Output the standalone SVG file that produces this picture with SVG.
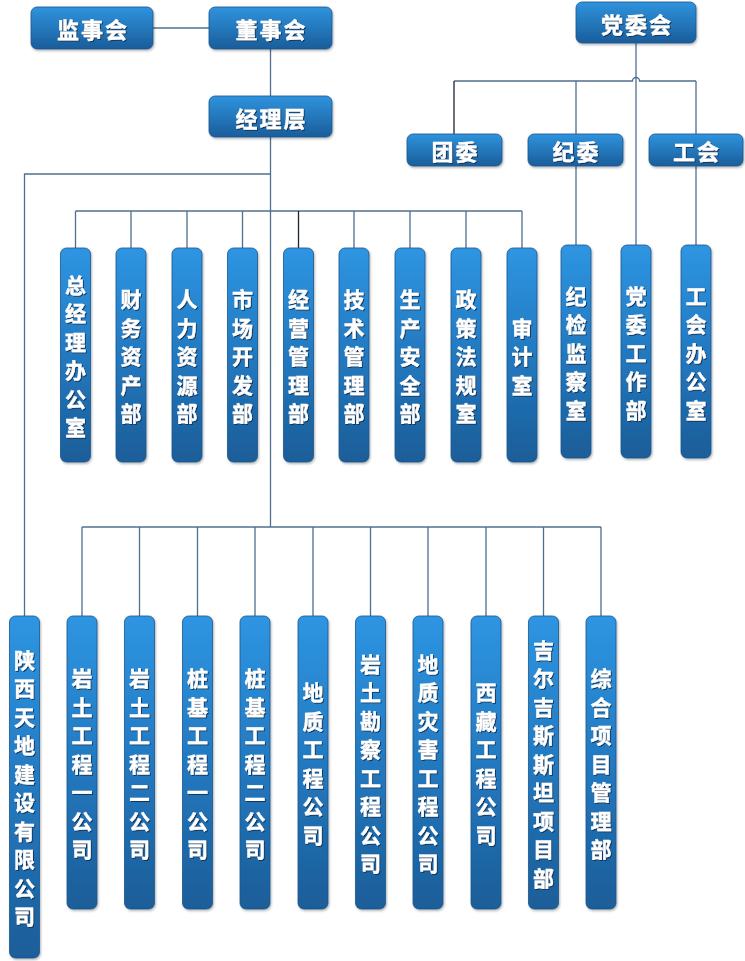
<svg xmlns="http://www.w3.org/2000/svg" width="745" height="961" viewBox="0 0 745 961">
<defs>
<linearGradient id="gv" x1="0" y1="0" x2="0" y2="1">
<stop offset="0" stop-color="#2e95e2"/>
<stop offset="0.5" stop-color="#2379c0"/>
<stop offset="1" stop-color="#1a5d98"/>
</linearGradient>
<linearGradient id="gh" x1="0" y1="0" x2="0" y2="1">
<stop offset="0" stop-color="#2f93dd"/>
<stop offset="1" stop-color="#1a5d9b"/>
</linearGradient>
<filter id="bs" x="-20%" y="-20%" width="150%" height="150%">
<feDropShadow dx="1" dy="1.5" stdDeviation="1.2" flood-color="#000" flood-opacity="0.3"/>
</filter>
<filter id="ts" x="-20%" y="-20%" width="140%" height="140%">
<feDropShadow dx="1" dy="1" stdDeviation="0.5" flood-color="#0a2a4c" flood-opacity="0.85"/>
</filter>
</defs>
<style>
.bh{fill:url(#gh);stroke:#1a558e;stroke-width:0.8;filter:url(#bs)}
.bv{fill:url(#gv);stroke:#1a558e;stroke-width:0.8;filter:url(#bs)}
.t{font-family:"Noto Sans CJK SC","Noto Sans",sans-serif;font-weight:bold;fill:#fff;stroke:#fff;stroke-width:0.35;filter:url(#ts)}
.th{font-size:22px;letter-spacing:2px;text-anchor:middle;dominant-baseline:central}
.tv{font-size:21px;text-anchor:middle;dominant-baseline:central}
.c{fill:none;stroke:#4f6f8f;stroke-width:1.3}
.k{fill:none;stroke:#1c2430;stroke-width:1.3}
</style>
<rect width="745" height="961" fill="#fff"/>
<g id="connectors">
<path class="c" d="M153,28 H209"/>
<path class="c" d="M270.5,49 V96"/>
<path class="c" d="M270.5,137 V527"/>
<path class="c" d="M270.5,174 H24.5 V616"/>
<path class="c" d="M75.5,211 H522"/>
<path class="c" d="M75.5,211 V248 M131,211 V248 M187,211 V248 M242.5,211 V248 M354,211 V248 M410,211 V248 M466,211 V248 M522,211 V248"/>
<path class="k" d="M298.5,211 V248"/>
<path class="c" d="M82,527 H601"/>
<path class="c" d="M82,527 V616 M139.5,527 V616 M197.5,527 V616 M255,527 V616 M313,527 V616 M370.5,527 V616 M428,527 V616 M486,527 V616 M543.5,527 V616 M601,527 V616"/>
<path class="c" d="M636,43 V245"/>
<path class="c" d="M454,81 H632.5 a3.5,3.5 0 0 1 7,0 H696"/>
<path class="k" d="M454,81 V134"/>
<path class="c" d="M576,81 V134 M696,81 V134"/>
<path class="c" d="M576,166 V245 M696,166 V245"/>
</g>
<g id="n-jianshihui"><rect class="bh" x="31" y="7" width="122" height="42" rx="6"/><text class="t th" x="93" y="28">监事会</text></g>
<g id="n-dongshihui"><rect class="bh" x="209" y="7" width="123" height="42" rx="6"/><text class="t th" x="271.5" y="28">董事会</text></g>
<g id="n-jinglieceng"><rect class="bh" x="209" y="96" width="123" height="41" rx="6"/><text class="t th" x="271.5" y="116.5">经理层</text></g>
<g id="n-dangweihui"><rect class="bh" x="576" y="2" width="120" height="41" rx="6"/><text class="t th" x="637" y="22.5">党委会</text></g>
<g id="n-tuanwei"><rect class="bh" x="407" y="134" width="95" height="32" rx="6"/><text class="t th" x="455.5" y="150">团委</text></g>
<g id="n-jiwei"><rect class="bh" x="528" y="134" width="95" height="32" rx="6"/><text class="t th" x="576.5" y="150">纪委</text></g>
<g id="n-gonghui"><rect class="bh" x="649" y="134" width="94" height="32" rx="6"/><text class="t th" x="697" y="150">工会</text></g>

<g id="n-d1"><rect class="bv" x="60.5" y="248" width="30" height="214" rx="6"/><text class="t tv"><tspan x="75.5" y="283.75">总</tspan><tspan x="75.5" y="312.25">经</tspan><tspan x="75.5" y="340.75">理</tspan><tspan x="75.5" y="369.25">办</tspan><tspan x="75.5" y="397.75">公</tspan><tspan x="75.5" y="426.25">室</tspan></text></g>
<g id="n-d2"><rect class="bv" x="116" y="248" width="30" height="214" rx="6"/><text class="t tv"><tspan x="131" y="298">财</tspan><tspan x="131" y="326.5">务</tspan><tspan x="131" y="355">资</tspan><tspan x="131" y="383.5">产</tspan><tspan x="131" y="412">部</tspan></text></g>
<g id="n-d3"><rect class="bv" x="172" y="248" width="30" height="214" rx="6"/><text class="t tv"><tspan x="187" y="298">人</tspan><tspan x="187" y="326.5">力</tspan><tspan x="187" y="355">资</tspan><tspan x="187" y="383.5">源</tspan><tspan x="187" y="412">部</tspan></text></g>
<g id="n-d4"><rect class="bv" x="227.5" y="248" width="30" height="214" rx="6"/><text class="t tv"><tspan x="242.5" y="298">市</tspan><tspan x="242.5" y="326.5">场</tspan><tspan x="242.5" y="355">开</tspan><tspan x="242.5" y="383.5">发</tspan><tspan x="242.5" y="412">部</tspan></text></g>
<g id="n-d5"><rect class="bv" x="283.5" y="248" width="30" height="214" rx="6"/><text class="t tv"><tspan x="298.5" y="298">经</tspan><tspan x="298.5" y="326.5">营</tspan><tspan x="298.5" y="355">管</tspan><tspan x="298.5" y="383.5">理</tspan><tspan x="298.5" y="412">部</tspan></text></g>
<g id="n-d6"><rect class="bv" x="339" y="248" width="30" height="214" rx="6"/><text class="t tv"><tspan x="354" y="298">技</tspan><tspan x="354" y="326.5">术</tspan><tspan x="354" y="355">管</tspan><tspan x="354" y="383.5">理</tspan><tspan x="354" y="412">部</tspan></text></g>
<g id="n-d7"><rect class="bv" x="395" y="248" width="30" height="214" rx="6"/><text class="t tv"><tspan x="410" y="298">生</tspan><tspan x="410" y="326.5">产</tspan><tspan x="410" y="355">安</tspan><tspan x="410" y="383.5">全</tspan><tspan x="410" y="412">部</tspan></text></g>
<g id="n-d8"><rect class="bv" x="451" y="248" width="30" height="214" rx="6"/><text class="t tv"><tspan x="466" y="298">政</tspan><tspan x="466" y="326.5">策</tspan><tspan x="466" y="355">法</tspan><tspan x="466" y="383.5">规</tspan><tspan x="466" y="412">室</tspan></text></g>
<g id="n-d9"><rect class="bv" x="507" y="248" width="30" height="214" rx="6"/><text class="t tv"><tspan x="522" y="326.5">审</tspan><tspan x="522" y="355">计</tspan><tspan x="522" y="383.5">室</tspan></text></g>

<g id="n-p1"><rect class="bv" x="561" y="245" width="30" height="213" rx="6"/><text class="t tv"><tspan x="576" y="294.5">纪</tspan><tspan x="576" y="323">检</tspan><tspan x="576" y="351.5">监</tspan><tspan x="576" y="380">察</tspan><tspan x="576" y="408.5">室</tspan></text></g>
<g id="n-p2"><rect class="bv" x="621" y="245" width="30" height="213" rx="6"/><text class="t tv"><tspan x="636" y="294.5">党</tspan><tspan x="636" y="323">委</tspan><tspan x="636" y="351.5">工</tspan><tspan x="636" y="380">作</tspan><tspan x="636" y="408.5">部</tspan></text></g>
<g id="n-p3"><rect class="bv" x="681" y="245" width="30" height="213" rx="6"/><text class="t tv"><tspan x="696" y="294.5">工</tspan><tspan x="696" y="323">会</tspan><tspan x="696" y="351.5">办</tspan><tspan x="696" y="380">公</tspan><tspan x="696" y="408.5">室</tspan></text></g>

<g id="n-b0"><rect class="bv" x="9.5" y="616" width="30" height="342" rx="6"/><text class="t tv"><tspan x="24.5" y="658.75">陕</tspan><tspan x="24.5" y="687.25">西</tspan><tspan x="24.5" y="715.75">天</tspan><tspan x="24.5" y="744.25">地</tspan><tspan x="24.5" y="772.75">建</tspan><tspan x="24.5" y="801.25">设</tspan><tspan x="24.5" y="829.75">有</tspan><tspan x="24.5" y="858.25">限</tspan><tspan x="24.5" y="886.75">公</tspan><tspan x="24.5" y="915.25">司</tspan></text></g>
<g id="n-b1"><rect class="bv" x="67" y="616" width="30" height="293" rx="6"/><text class="t tv"><tspan x="82" y="677">岩</tspan><tspan x="82" y="705.5">土</tspan><tspan x="82" y="734">工</tspan><tspan x="82" y="762.5">程</tspan><tspan x="82" y="791">一</tspan><tspan x="82" y="819.5">公</tspan><tspan x="82" y="848">司</tspan></text></g>
<g id="n-b2"><rect class="bv" x="124.5" y="616" width="30" height="293" rx="6"/><text class="t tv"><tspan x="139.5" y="677">岩</tspan><tspan x="139.5" y="705.5">土</tspan><tspan x="139.5" y="734">工</tspan><tspan x="139.5" y="762.5">程</tspan><tspan x="139.5" y="791">二</tspan><tspan x="139.5" y="819.5">公</tspan><tspan x="139.5" y="848">司</tspan></text></g>
<g id="n-b3"><rect class="bv" x="182.5" y="616" width="30" height="293" rx="6"/><text class="t tv"><tspan x="197.5" y="677">桩</tspan><tspan x="197.5" y="705.5">基</tspan><tspan x="197.5" y="734">工</tspan><tspan x="197.5" y="762.5">程</tspan><tspan x="197.5" y="791">一</tspan><tspan x="197.5" y="819.5">公</tspan><tspan x="197.5" y="848">司</tspan></text></g>
<g id="n-b4"><rect class="bv" x="240" y="616" width="30" height="293" rx="6"/><text class="t tv"><tspan x="255" y="677">桩</tspan><tspan x="255" y="705.5">基</tspan><tspan x="255" y="734">工</tspan><tspan x="255" y="762.5">程</tspan><tspan x="255" y="791">二</tspan><tspan x="255" y="819.5">公</tspan><tspan x="255" y="848">司</tspan></text></g>
<g id="n-b5"><rect class="bv" x="298" y="616" width="30" height="293" rx="6"/><text class="t tv"><tspan x="313" y="691.25">地</tspan><tspan x="313" y="719.75">质</tspan><tspan x="313" y="748.25">工</tspan><tspan x="313" y="776.75">程</tspan><tspan x="313" y="805.25">公</tspan><tspan x="313" y="833.75">司</tspan></text></g>
<g id="n-b6"><rect class="bv" x="355.5" y="616" width="30" height="293" rx="6"/><text class="t tv"><tspan x="370.5" y="662.75">岩</tspan><tspan x="370.5" y="691.25">土</tspan><tspan x="370.5" y="719.75">勘</tspan><tspan x="370.5" y="748.25">察</tspan><tspan x="370.5" y="776.75">工</tspan><tspan x="370.5" y="805.25">程</tspan><tspan x="370.5" y="833.75">公</tspan><tspan x="370.5" y="862.25">司</tspan></text></g>
<g id="n-b7"><rect class="bv" x="413" y="616" width="30" height="293" rx="6"/><text class="t tv"><tspan x="428" y="662.75">地</tspan><tspan x="428" y="691.25">质</tspan><tspan x="428" y="719.75">灾</tspan><tspan x="428" y="748.25">害</tspan><tspan x="428" y="776.75">工</tspan><tspan x="428" y="805.25">程</tspan><tspan x="428" y="833.75">公</tspan><tspan x="428" y="862.25">司</tspan></text></g>
<g id="n-b8"><rect class="bv" x="471" y="616" width="30" height="293" rx="6"/><text class="t tv"><tspan x="486" y="691.25">西</tspan><tspan x="486" y="719.75">藏</tspan><tspan x="486" y="748.25">工</tspan><tspan x="486" y="776.75">程</tspan><tspan x="486" y="805.25">公</tspan><tspan x="486" y="833.75">司</tspan></text></g>
<g id="n-b9"><rect class="bv" x="528.5" y="616" width="30" height="293" rx="6"/><text class="t tv"><tspan x="543.5" y="648.5">吉</tspan><tspan x="543.5" y="677">尔</tspan><tspan x="543.5" y="705.5">吉</tspan><tspan x="543.5" y="734">斯</tspan><tspan x="543.5" y="762.5">斯</tspan><tspan x="543.5" y="791">坦</tspan><tspan x="543.5" y="819.5">项</tspan><tspan x="543.5" y="848">目</tspan><tspan x="543.5" y="876.5">部</tspan></text></g>
<g id="n-b10"><rect class="bv" x="586" y="616" width="30" height="293" rx="6"/><text class="t tv"><tspan x="601" y="677">综</tspan><tspan x="601" y="705.5">合</tspan><tspan x="601" y="734">项</tspan><tspan x="601" y="762.5">目</tspan><tspan x="601" y="791">管</tspan><tspan x="601" y="819.5">理</tspan><tspan x="601" y="848">部</tspan></text></g>
</svg>
